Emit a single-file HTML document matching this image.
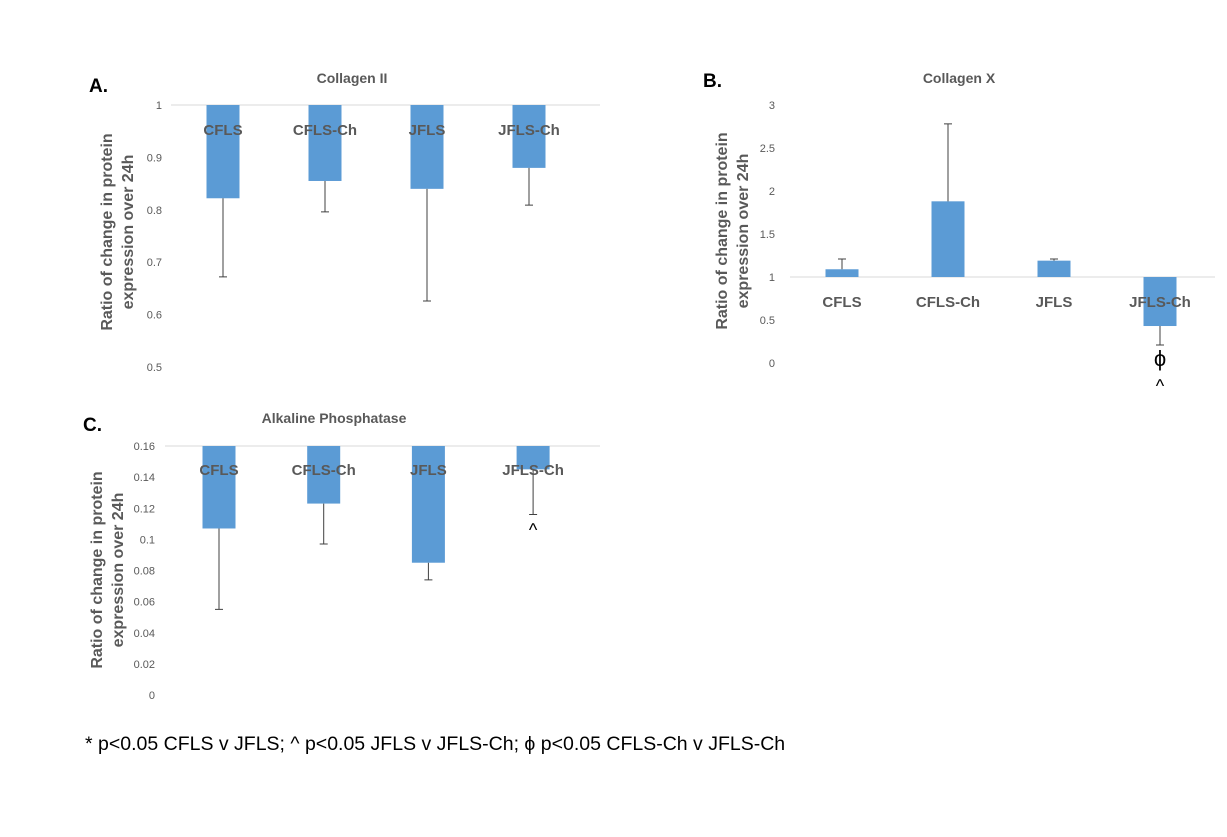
<!DOCTYPE html>
<html><head><meta charset="utf-8">
<style>
body{margin:0;background:#fff;}
svg{display:block;font-family:"Liberation Sans",sans-serif;}
.tick{font-size:11px;fill:#595959;}
.cat{font-size:15px;font-weight:bold;fill:#595959;}
.ttl{font-size:14px;font-weight:bold;fill:#595959;}
.ax{font-size:16px;font-weight:bold;fill:#595959;}
.pl{font-size:19px;font-weight:bold;fill:#000;}
</style></head>
<body>
<svg id="fig" width="1227" height="837">
<text class="pl" x="89" y="92">A.</text>
<text class="pl" x="703" y="87">B.</text>
<text class="pl" x="83" y="431">C.</text>
<text x="85" y="750" style="font-size:19.5px;fill:#000">* p&lt;0.05 CFLS v JFLS; ^ p&lt;0.05 JFLS v JFLS-Ch; ϕ p&lt;0.05 CFLS-Ch v JFLS-Ch</text>
</svg>
<script>
const categories=["CFLS","CFLS-Ch","JFLS","JFLS-Ch"];
const colIIValues=[0.822,0.855,0.840,0.880];
const colIIErr=[0.672,0.796,0.626,0.809];
const colIITicks=["0.5","0.6","0.7","0.8","0.9","1"];
const colXValues=[1.09,1.88,1.19,0.43];
const colXErr=[1.21,2.78,1.21,0.21];
const colXTicks=["0","0.5","1","1.5","2","2.5","3"];
const alpValues=[0.107,0.123,0.085,0.145];
const alpErr=[0.055,0.097,0.074,0.116];
const alpTicks=["0","0.02","0.04","0.06","0.08","0.1","0.12","0.14","0.16"];

const NS="http://www.w3.org/2000/svg";
const svg=document.getElementById('fig');
function mk(tag,attrs,parent){const e=document.createElementNS(NS,tag);for(const k in attrs)e.setAttribute(k,attrs[k]);(parent||svg).appendChild(e);return e;}

function chart(cfg){
  const g=mk('g',{});
  
  
  const y=v=>cfg.y0+(v-cfg.vmin)/(cfg.vmax-cfg.vmin)*(cfg.y1-cfg.y0);
  const x=i=>cfg.x0+i*cfg.step;
  const t=mk('text',{class:'ttl',x:cfg.titleX,y:cfg.titleY,'text-anchor':'middle'},g);
  t.textContent=cfg.title;
  
  
  cfg.ticks.forEach(s=>{
    const tt=mk('text',{class:'tick',x:cfg.tickX,y:y(parseFloat(s))+4,'text-anchor':'end'},g);
    tt.textContent=s;
    
    
  });
  const gl=mk('line',{x1:cfg.gx0,x2:cfg.gx1,y1:y(cfg.base),y2:y(cfg.base),stroke:'#d9d9d9','stroke-width':1},g);
  
  
  cfg.vals.forEach((v,i)=>{
    const cx=x(i),yb=y(cfg.base),yv=y(v);
    const r=mk('rect',{x:cx-16.5,y:Math.min(yb,yv),width:33,height:Math.abs(yv-yb),fill:'#5b9bd5'},g);
    
    
    const ye=y(cfg.err[i]);
    const el=mk('path',{d:`M${cx},${yv}V${ye}M${cx-4},${ye}H${cx+4}`,stroke:'#404040','stroke-width':1,fill:'none'},g);
    
    
    const c=mk('text',{class:'cat',x:cx,y:cfg.catY,'text-anchor':'middle'},g);
    c.textContent=categories[i];
    
    
  });
  const a=mk('text',{class:'ax','text-anchor':'middle',transform:`translate(${cfg.axX},${cfg.axY}) rotate(-90)`},g);
  const s1=mk('tspan',{x:0,dy:0},a);s1.textContent='Ratio of change in protein';
  const s2=mk('tspan',{x:0,dy:21},a);s2.textContent='expression over 24h';
  
  
  return {g,x,y};
}
chart({name:'collagen-ii-chart',title:'Collagen II',titleX:352,titleY:83,vmin:0.5,vmax:1,y0:367,y1:105,x0:223,step:102,vals:colIIValues,err:colIIErr,ticks:colIITicks,tickX:162,base:1,gx0:171,gx1:600,catY:135,axX:112,axY:232});
const b=chart({name:'collagen-x-chart',title:'Collagen X',titleX:959,titleY:83,vmin:0,vmax:3,y0:363,y1:105,x0:842,step:106,vals:colXValues,err:colXErr,ticks:colXTicks,tickX:775,base:1,gx0:790,gx1:1215,catY:307,axX:727,axY:231});
const c=chart({name:'alkaline-phosphatase-chart',title:'Alkaline Phosphatase',titleX:334,titleY:423,vmin:0,vmax:0.16,y0:695,y1:446,x0:219,step:104.7,vals:alpValues,err:alpErr,ticks:alpTicks,tickX:155,base:0.16,gx0:165,gx1:600,catY:475,axX:102,axY:570});
function ann(ch,txt,i,yy,fs,nm){
  const t=mk('text',{x:ch.x(i),y:yy,'text-anchor':'middle',style:`font-size:${fs}px;fill:#000`},ch.g);
  t.textContent=txt;
  
  
}
ann(b,'ϕ',3,366,22,'phi-annotation');
ann(b,'^',3,392,18,'caret-annotation');
ann(c,'^',3,536,18,'caret-annotation');
</script>
</body></html>
